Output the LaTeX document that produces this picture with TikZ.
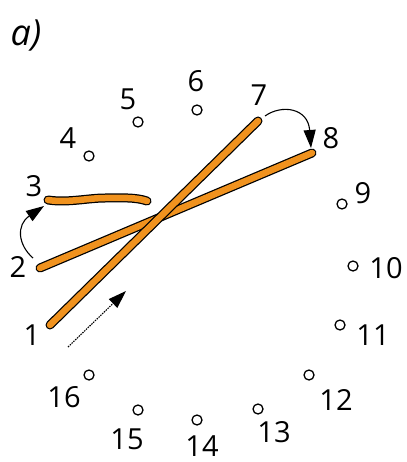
\documentclass[tikz,border=0pt]{standalone}
\usepackage{fontspec}
\setmainfont{Open Sans}
\usetikzlibrary{arrows.meta}
\definecolor{handorange}{RGB}{240,146,30}
\tikzset{
  num/.style={inner sep=0pt, font=\fontsize{29}{29}\selectfont},
  dot/.style={circle, draw=black, line width=1.3pt, minimum size=10pt, inner sep=0pt, fill=white},
  handout/.style={line width=9pt, black, line cap=round},
  handin/.style={line width=6.5pt, handorange, line cap=round},
  movearrow/.style={line width=1.1pt, -{Triangle[length=18pt,width=12pt]}},
}
\begin{document}
\begin{tikzpicture}[x=1pt,y=-1pt]
\useasboundingbox (0,0) rectangle (406,462);
% title
\node[inner sep=0pt, font=\fontsize{36}{36}\selectfont\itshape] (title) at (26,36) {a)};
% labels
\node[num] (n1) at (32,335) {1};
\node[num] (n2) at (18,267) {2};
\node[num] (n3) at (34,186) {3};
\node[num] (n4) at (68,138) {4};
\node[num] (n5) at (128,99) {5};
\node[num] (n6) at (196,81) {6};
\node[num] (n7) at (259,95) {7};
\node[num] (n8) at (331,138) {8};
\node[num] (n9) at (363,193) {9};
\node[num] (n10) at (386,268) {10};
\node[num] (n11) at (373,335) {11};
\node[num] (n12) at (336,400) {12};
\node[num] (n13) at (274,432) {13};
\node[num] (n14) at (202,446) {14};
\node[num] (n15) at (127,439) {15};
\node[num] (n16) at (64,397) {16};
% dots
\node[dot] (d4) at (89,156) {};
\node[dot] (d5) at (138,122) {};
\node[dot] (d6) at (197,110) {};
\node[dot] (d9) at (342,204) {};
\node[dot] (d10) at (353,266) {};
\node[dot] (d11) at (340,325) {};
\node[dot] (d12) at (309,375) {};
\node[dot] (d13) at (258,409) {};
\node[dot] (d14) at (197,420) {};
\node[dot] (d15) at (138,410) {};
\node[dot] (d16) at (89,375) {};
% hand end points
\coordinate (h1) at (50,325);
\coordinate (h7) at (258,121);
\coordinate (h2) at (40,268);
\coordinate (h8) at (312,153);
\coordinate (h3a) at (48,200);
\coordinate (h3b) at (147,201);
% hands
\draw[handout] (h3a) .. controls (68,203) and (88,198) .. (105,198) .. controls (122,198) and (135,197) .. (h3b);
\draw[handin] (h3a) .. controls (68,203) and (88,198) .. (105,198) .. controls (122,198) and (135,197) .. (h3b);
\draw[handout] (h2) -- (h8);
\draw[handin] (h2) -- (h8);
\draw[handout] (h1) -- (h7);
\draw[handin] (h1) -- (h7);
% movement arrows
\coordinate (a1s) at (68,347);
\coordinate (a1e) at (126,291);
\draw[movearrow, dash pattern=on 1.5pt off 1pt] (a1s) -- (a1e);
\coordinate (a2s) at (33,258);
\coordinate (a2e) at (44,206);
\draw[movearrow] (a2s) .. controls (18,245) and (16,225) .. (a2e);
\coordinate (a7s) at (265,116);
\coordinate (a7e) at (311,148);
\draw[movearrow] (a7s) .. controls (282,104) and (308,108) .. (a7e);
\end{tikzpicture}
\end{document}
